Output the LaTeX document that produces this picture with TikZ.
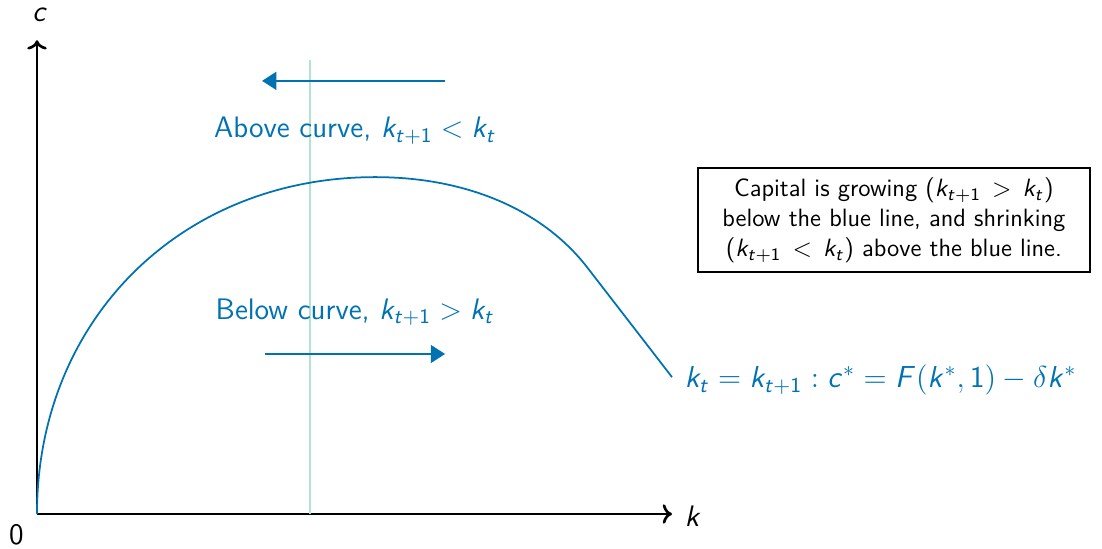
\RequirePackage{fix-cm}
\documentclass[tikz,border=0pt]{standalone}
\usepackage{amsmath,amssymb}
\usetikzlibrary{calc,arrows.meta}
\definecolor{myblue}{RGB}{0,114,178}
\definecolor{mymint}{RGB}{178,228,212}
% letras em sans inclinado na matematica
\DeclareSymbolFont{sfit}{OT1}{cmss}{m}{sl}
\DeclareSymbolFont{sfup}{OT1}{cmss}{m}{n}
\DeclareMathSymbol{k}{\mathalpha}{sfit}{`k}
\DeclareMathSymbol{t}{\mathalpha}{sfit}{`t}
\DeclareMathSymbol{c}{\mathalpha}{sfit}{`c}
\DeclareMathSymbol{F}{\mathalpha}{sfit}{`F}
\DeclareMathSymbol{1}{\mathalpha}{sfup}{`1}

\begin{document}
\begin{tikzpicture}[font=\sffamily\fontsize{13.5}{16}\selectfont]
\useasboundingbox (-0.592,-0.544) rectangle (17.04,8.224);

% eixos
\draw[->, line width=1.2pt] (0,0) -- (10.16,0);
\draw[->, line width=1.2pt] (0,0) -- (0,7.58);
\node (klab) at (10.5,-0.03) {$k$};
\node (clab) at (0.05,7.98) {$c$};
\node (zero) at (-0.33,-0.34) {0};

% linha vertical
\draw[mymint, line width=0.7pt] (4.37,0) -- (4.37,7.26);

% curva c = F(k,1) - delta k
\draw[myblue, line width=0.8pt] (0,0) .. controls (0,3.1) and (2.3,5.39) .. (5.41,5.39)
  .. controls (6.9,5.39) and (8.1,4.85) .. (8.8,3.95) -- (10.16,2.19);
\node[myblue, anchor=west, font=\sffamily\fontsize{13.8}{16}\selectfont] (curvelab) at (10.24,2.14) {$k_t = k_{t+1} : c^{*} = F(k^{*},1) - \delta k^{*}$};

% setas
\coordinate (upR) at (6.53,6.93);
\coordinate (upL) at (3.6,6.93);
\draw[-{Triangle[length=6.5pt,width=8pt]}, myblue, line width=1.2pt] (upR) -- (upL);
\node[myblue] (above) at (5.09,6.13) {Above curve, $k_{t+1} < k_t$};

\coordinate (dnL) at (3.65,2.56);
\coordinate (dnR) at (6.53,2.56);
\draw[-{Triangle[length=6.5pt,width=8pt]}, myblue, line width=1.2pt] (dnL) -- (dnR);
\node[myblue] (below) at (5.09,3.23) {Below curve, $k_{t+1} > k_t$};

% caixa
\node[draw, line width=0.8pt, align=center, minimum width=6.27cm, minimum height=1.66cm,
  font=\sffamily\fontsize{11.4}{13.6}\selectfont] (note) at (13.71,4.70)
  {Capital is growing ($k_{t+1}\,>\,k_t$)\\
   below the blue line, and shrinking\\
   ($k_{t+1}\,<\,k_t$) above the blue line.};

\end{tikzpicture}
\end{document}
